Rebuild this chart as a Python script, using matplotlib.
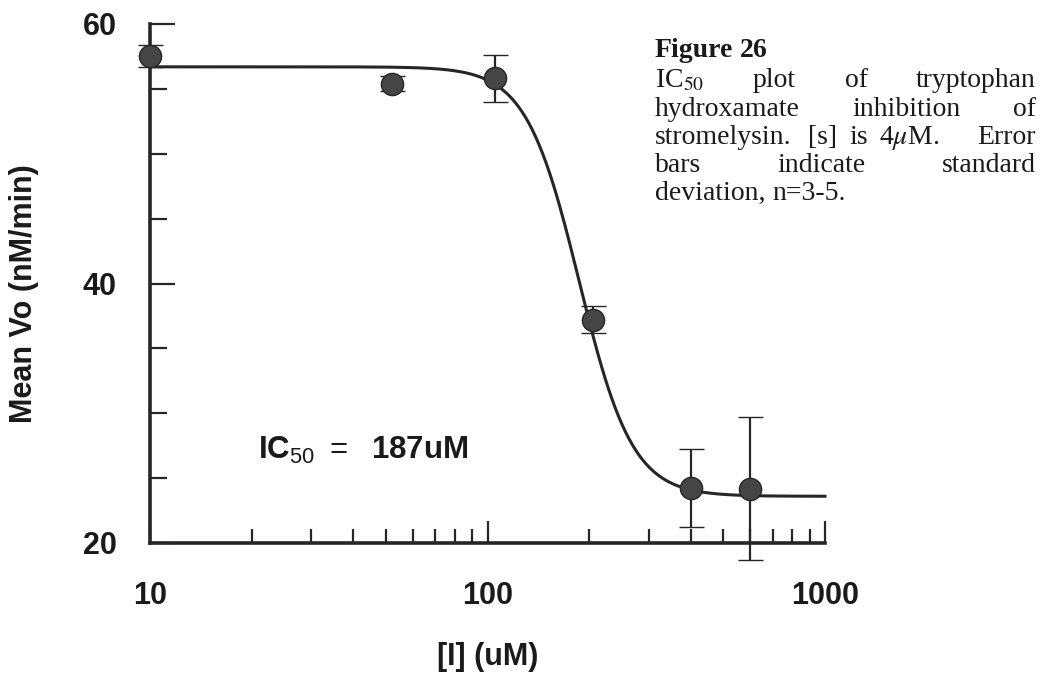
import matplotlib.pyplot as plt
import numpy as np

plt.rcParams['font.family'] = ['Liberation Sans', 'DejaVu Sans']
plt.rcParams['mathtext.fontset'] = 'custom'
plt.rcParams['mathtext.rm'] = 'Liberation Sans'
plt.rcParams['mathtext.bf'] = 'Liberation Sans:bold'

# inhibitor concentration (uM), mean rate (nM/min) and standard deviation
conc = [10, 52, 105, 205, 400, 600]
mean_vo = [57.5, 55.4, 55.8, 37.2, 24.25, 24.2]
sd_vo = [0.85, 0.6, 1.8, 1.05, 3.0, 5.5]

# four parameter logistic fit
top = 56.7
bottom = 23.6
ic50 = 187
hill = 5.5

ink = '#262626'
dot = '#454545'

fig = plt.figure(figsize=(10.5, 6.75), dpi=100)
ax = fig.add_axes([150 / 1050, 1 - 543 / 675, 675 / 1050, 519 / 675])

xs = np.logspace(1, 3, 400)
fit = bottom + (top - bottom) / (1 + (xs / ic50) ** hill)
ax.plot(xs, fit, color=ink, lw=2.2, clip_on=False, zorder=2)

ax.errorbar(conc, mean_vo, yerr=sd_vo, fmt='o', ms=16, mfc=dot, mec=ink, mew=1,
            ecolor=ink, elinewidth=1.6, capsize=9, capthick=1.6,
            clip_on=False, zorder=3)

ax.set_xscale('log')
ax.set_xlim(10, 1000)
ax.set_ylim(20, 60)

for side in ['top', 'right']:
    ax.spines[side].set_visible(False)
for side in ['left', 'bottom']:
    ax.spines[side].set_linewidth(2.6)
    ax.spines[side].set_color(ink)

ax.set_yticks([20, 40, 60])
ax.set_yticks(np.arange(20, 61, 5), minor=True)
ax.set_xticks([10, 100, 1000])
ax.set_xticklabels(['10', '100', '1000'])
ax.set_yticklabels(['20', '40', '60'])

ax.tick_params(axis='y', which='major', direction='in', length=18, width=1.6,
               color=ink, pad=24, labelsize=22)
ax.tick_params(axis='y', which='minor', direction='in', length=12, width=1.6,
               color=ink)
ax.tick_params(axis='x', which='major', direction='in', length=16, width=1.6,
               color=ink, pad=27, labelsize=22)
ax.tick_params(axis='x', which='minor', direction='in', length=10, width=1.6,
               color=ink)
for lab in ax.get_xticklabels() + ax.get_yticklabels():
    lab.set_fontweight('bold')
    lab.set_color('#1a1a1a')

ax.set_xlabel('[I] (uM)', fontsize=22, fontweight='bold', color='#1a1a1a')
ax.set_ylabel('Mean Vo (nM/min)', fontsize=22, fontweight='bold', color='#1a1a1a')
ax.xaxis.set_label_coords(0.5, -0.19)
ax.yaxis.set_label_coords(-0.165, 0.48)

ax.text(0.16, 0.162, 'IC$_{50}$ $=$  187uM', transform=ax.transAxes,
        fontsize=22.5, fontweight='bold', color='#1a1a1a', va='baseline',
        math_fontfamily='custom')

# caption block, justified like the printed page
renderer = fig.canvas.get_renderer()
W, H = fig.bbox.width, fig.bbox.height
x0, x1 = 655, 1036
cap_size = 20


def put_line(words, baseline, weight='normal', justify=True, weights=None):
    texts = [fig.text(0, 1 - baseline / H, w, fontsize=cap_size, fontweight=weight,
                      family='Liberation Serif', math_fontfamily='stix',
                      va='baseline', ha='left', color='#1a1a1a')
             for w in words]
    widths = [t.get_window_extent(renderer).width for t in texts]
    if weights is None:
        weights = [1] * (len(words) - 1)
    if justify and len(words) > 1:
        unit = (x1 - x0 - sum(widths)) / sum(weights)
    else:
        unit = cap_size * 0.25 * 100 / 72
    x = x0
    for i, (t, w) in enumerate(zip(texts, widths)):
        t.set_x(x / W)
        if i < len(weights):
            x += w + unit * weights[i]


put_line(['Figure', '26'], 57, weight='bold', justify=False)
put_line(['IC$_{50}$', 'plot', 'of', 'tryptophan'], 87)
put_line(['hydroxamate', 'inhibition', 'of'], 116)
put_line(['stromelysin.', '[s]', 'is', '4$\\mu$M.', 'Error'], 144,
         weights=[1, 0.8, 0.7, 2.4])
put_line(['bars', 'indicate', 'standard'], 172)
put_line(['deviation,', 'n=3-5.'], 200, justify=False)

fig.savefig('out.png', dpi=100, facecolor='white')
